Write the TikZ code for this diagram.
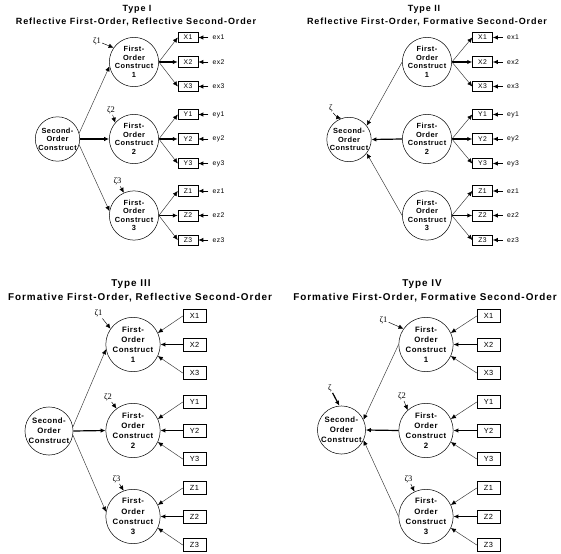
\documentclass[tikz,border=0pt]{standalone}
\usepackage{fontspec}
\setmainfont{Liberation Sans}[LetterSpace=6]
\newfontfamily\headfont{Liberation Sans}[LetterSpace=10]
\newfontfamily\zetafont{Liberation Serif}
\usetikzlibrary{arrows.meta}
\tikzstyle{construct} = [
    circle,
    draw=black,
    line width=0.5pt,
    minimum size=38pt,
    inner sep=0pt,
    align=center,
    font=\bfseries\fontsize{7.4}{8.5}\selectfont
]
\tikzstyle{bigconstruct} = [
    construct,
    minimum size=43pt,
    font=\bfseries\fontsize{7.8}{10.2}\selectfont
]
\tikzstyle{indicator} = [
    rectangle,
    draw=black,
    line width=0.5pt,
    minimum width=20pt,
    minimum height=10.5pt,
    inner sep=0pt,
    font=\fontsize{6.8}{7}\selectfont
]
\tikzstyle{bigindicator} = [
    indicator,
    minimum width=23pt,
    minimum height=13pt,
    font=\fontsize{7.4}{8}\selectfont
]
\tikzstyle{errterm} = [inner xsep=4pt, inner ysep=1pt, font=\fontsize{6.8}{7}\selectfont]
\tikzstyle{zeta} = [inner sep=1pt, font=\zetafont\fontsize{8.5}{8.5}\selectfont]
\tikzstyle{heading} = [anchor=base, font=\headfont\bfseries\fontsize{9}{10}\selectfont]
\tikzstyle{bigheading} = [anchor=base, font=\headfont\bfseries\fontsize{9.9}{11}\selectfont]
\tikzstyle{arrow} = [-{Latex[length=5pt,width=4.5pt,color=black]}, draw=black!80, line width=0.45pt]
\tikzstyle{mainarrow} = [arrow, draw=black, line width=1.2pt]
\tikzstyle{errarrow} = [arrow, draw=black, line width=0.9pt]
\tikzstyle{zetaarrow} = [arrow, draw=black]

\begin{document}
\begin{tikzpicture}[x=1pt, y=-1pt]

\useasboundingbox (0,0) rectangle (561,553);

% Type I
\node (aTitle) [heading] at (137,11.5) {Type I};
\node (aSub) [heading] at (136,25) {Reflective First-Order, Reflective Second-Order};

\node (aSO) [construct] at (57.5,139) {Second-\\Order\\Construct};
\node (aF1) [construct] at (134,62) {First-\\Order\\Construct\\1};
\node (aF2) [construct] at (134,139) {First-\\Order\\Construct\\2};
\node (aF3) [construct] at (134,215.5) {First-\\Order\\Construct\\3};

\node (aX1) [indicator] at (188,37.5) {X1};
\node (aX2) [indicator] at (188,62) {X2};
\node (aX3) [indicator] at (188,86.5) {X3};
\node (aY1) [indicator] at (188,114.5) {Y1};
\node (aY2) [indicator] at (188,139) {Y2};
\node (aY3) [indicator] at (188,163.5) {Y3};
\node (aZ1) [indicator] at (188,191) {Z1};
\node (aZ2) [indicator] at (188,215.5) {Z2};
\node (aZ3) [indicator] at (188,240) {Z3};

\node (aex1) [errterm] at (218.5,37.5) {ex1};
\node (aex2) [errterm] at (218.5,62) {ex2};
\node (aex3) [errterm] at (218.5,86.5) {ex3};
\node (aey1) [errterm] at (218.5,114.5) {ey1};
\node (aey2) [errterm] at (218.5,139) {ey2};
\node (aey3) [errterm] at (218.5,163.5) {ey3};
\node (aez1) [errterm] at (218.5,191) {ez1};
\node (aez2) [errterm] at (218.5,215.5) {ez2};
\node (aez3) [errterm] at (218.5,240) {ez3};

\node (az1) [zeta] at (97,41) {ζ1};
\node (az2) [zeta] at (111,110) {ζ2};
\node (az3) [zeta] at (117.5,181.5) {ζ3};

\draw [arrow] (aSO.15) -- (aF1.190);
\draw [mainarrow] (aSO.east) -- (aF2.west);
\draw [arrow] (aSO.-15) -- (aF3.170);

\draw [arrow] (aF1.east) -- (aX1.west);
\draw [mainarrow] (aF1.east) -- (aX2.west);
\draw [arrow] (aF1.east) -- (aX3.west);
\draw [arrow] (aF2.east) -- (aY1.west);
\draw [mainarrow] (aF2.east) -- (aY2.west);
\draw [arrow] (aF2.east) -- (aY3.west);
\draw [arrow] (aF3.east) -- (aZ1.west);
\draw [mainarrow] (aF3.east) -- (aZ2.west);
\draw [arrow] (aF3.east) -- (aZ3.west);

\draw [errarrow] (aex1) -- (aX1);
\draw [errarrow] (aex2) -- (aX2);
\draw [errarrow] (aex3) -- (aX3);
\draw [errarrow] (aey1) -- (aY1);
\draw [errarrow] (aey2) -- (aY2);
\draw [errarrow] (aey3) -- (aY3);
\draw [errarrow] (aez1) -- (aZ1);
\draw [errarrow] (aez2) -- (aZ2);
\draw [errarrow] (aez3) -- (aZ3);

\draw [zetaarrow] (az1) -- (aF1.145);
\draw [zetaarrow] (az2) -- (aF2.139);
\draw [zetaarrow] (az3) -- (aF3.114);

% Type II
\node (bTitle) [heading] at (424,11.5) {Type II};
\node (bSub) [heading] at (427,25) {Reflective First-Order, Formative Second-Order};

\node (bSO) [construct] at (349,139.5) {Second-\\Order\\Construct};
\node (bF1) [construct] at (427,62) {First-\\Order\\Construct\\1};
\node (bF2) [construct] at (427,139) {First-\\Order\\Construct\\2};
\node (bF3) [construct] at (427,215.5) {First-\\Order\\Construct\\3};

\node (bX1) [indicator] at (482.5,37.5) {X1};
\node (bX2) [indicator] at (482.5,62) {X2};
\node (bX3) [indicator] at (482.5,86.5) {X3};
\node (bY1) [indicator] at (482.5,114.5) {Y1};
\node (bY2) [indicator] at (482.5,139) {Y2};
\node (bY3) [indicator] at (482.5,163.5) {Y3};
\node (bZ1) [indicator] at (482.5,191) {Z1};
\node (bZ2) [indicator] at (482.5,215.5) {Z2};
\node (bZ3) [indicator] at (482.5,240) {Z3};

\node (bex1) [errterm] at (513,37.5) {ex1};
\node (bex2) [errterm] at (513,62) {ex2};
\node (bex3) [errterm] at (513,86.5) {ex3};
\node (bey1) [errterm] at (513,114.5) {ey1};
\node (bey2) [errterm] at (513,139) {ey2};
\node (bey3) [errterm] at (513,163.5) {ey3};
\node (bez1) [errterm] at (513,191) {ez1};
\node (bez2) [errterm] at (513,215.5) {ez2};
\node (bez3) [errterm] at (513,240) {ez3};

\node (bz) [zeta] at (331,108) {ζ};

\draw [arrow] (bF1.west) -- (bSO.38);
\draw [mainarrow] (bF2.west) -- (bSO.east);
\draw [arrow] (bF3.west) -- (bSO.-38);

\draw [arrow] (bF1.east) -- (bX1.west);
\draw [mainarrow] (bF1.east) -- (bX2.west);
\draw [arrow] (bF1.east) -- (bX3.west);
\draw [arrow] (bF2.east) -- (bY1.west);
\draw [mainarrow] (bF2.east) -- (bY2.west);
\draw [arrow] (bF2.east) -- (bY3.west);
\draw [arrow] (bF3.east) -- (bZ1.west);
\draw [mainarrow] (bF3.east) -- (bZ2.west);
\draw [arrow] (bF3.east) -- (bZ3.west);

\draw [errarrow] (bex1) -- (bX1);
\draw [errarrow] (bex2) -- (bX2);
\draw [errarrow] (bex3) -- (bX3);
\draw [errarrow] (bey1) -- (bY1);
\draw [errarrow] (bey2) -- (bY2);
\draw [errarrow] (bey3) -- (bY3);
\draw [errarrow] (bez1) -- (bZ1);
\draw [errarrow] (bez2) -- (bZ2);
\draw [errarrow] (bez3) -- (bZ3);

\draw [zetaarrow] (bz) to[bend right=20] (bSO.110);

% Type III
\node (cTitle) [bigheading] at (131,286) {Type III};
\node (cSub) [bigheading] at (140,300) {Formative First-Order, Reflective Second-Order};

\node (cSO) [bigconstruct] at (49,431) {Second-\\Order\\Construct};
\node (cF1) [bigconstruct] at (133,344.5) {First-\\Order\\Construct\\1};
\node (cF2) [bigconstruct] at (133,430.5) {First-\\Order\\Construct\\2};
\node (cF3) [bigconstruct] at (133,516.5) {First-\\Order\\Construct\\3};

\node (cX1) [bigindicator] at (194.5,316) {X1};
\node (cX2) [bigindicator] at (194.5,344.5) {X2};
\node (cX3) [bigindicator] at (194.5,373) {X3};
\node (cY1) [bigindicator] at (194.5,402) {Y1};
\node (cY2) [bigindicator] at (194.5,430.5) {Y2};
\node (cY3) [bigindicator] at (194.5,459) {Y3};
\node (cZ1) [bigindicator] at (194.5,488) {Z1};
\node (cZ2) [bigindicator] at (194.5,516.5) {Z2};
\node (cZ3) [bigindicator] at (194.5,545) {Z3};

\node (cz1) [zeta] at (98.5,313.5) {ζ1};
\node (cz2) [zeta] at (108,397) {ζ2};
\node (cz3) [zeta] at (116.5,479) {ζ3};

\draw [arrow] (cSO.10) -- (cF1.190);
\draw [mainarrow] (cSO.east) -- (cF2.west);
\draw [arrow] (cSO.-10) -- (cF3.170);

\draw [arrow] (cX1.west) -- (cF1.25);
\draw [mainarrow] (cX2.west) -- (cF1.east);
\draw [arrow] (cX3.west) -- (cF1.-25);
\draw [arrow] (cY1.west) -- (cF2.25);
\draw [mainarrow] (cY2.west) -- (cF2.east);
\draw [arrow] (cY3.west) -- (cF2.-25);
\draw [arrow] (cZ1.west) -- (cF3.25);
\draw [mainarrow] (cZ2.west) -- (cF3.east);
\draw [arrow] (cZ3.west) -- (cF3.-25);

\draw [zetaarrow] (cz1) -- (cF1.145);
\draw [zetaarrow] (cz2) -- (cF2.127);
\draw [zetaarrow] (cz3) -- (cF3.110);

% Type IV
\node (dTitle) [bigheading] at (422,286) {Type IV};
\node (dSub) [bigheading] at (425,300) {Formative First-Order, Formative Second-Order};

\node (dSO) [bigconstruct] at (341.5,430) {Second-\\Order\\Construct};
\node (dF1) [bigconstruct] at (426,344.5) {First-\\Order\\Construct\\1};
\node (dF2) [bigconstruct] at (426,430.5) {First-\\Order\\Construct\\2};
\node (dF3) [bigconstruct] at (426,516.5) {First-\\Order\\Construct\\3};

\node (dX1) [bigindicator] at (488.5,316) {X1};
\node (dX2) [bigindicator] at (488.5,344.5) {X2};
\node (dX3) [bigindicator] at (488.5,373) {X3};
\node (dY1) [bigindicator] at (488.5,402) {Y1};
\node (dY2) [bigindicator] at (488.5,430.5) {Y2};
\node (dY3) [bigindicator] at (488.5,459) {Y3};
\node (dZ1) [bigindicator] at (488.5,488) {Z1};
\node (dZ2) [bigindicator] at (488.5,516.5) {Z2};
\node (dZ3) [bigindicator] at (488.5,545) {Z3};

\node (dz) [zeta] at (330,388) {ζ};
\node (dz1) [zeta] at (383.5,320) {ζ1};
\node (dz2) [zeta] at (402,396) {ζ2};
\node (dz3) [zeta] at (408.5,479) {ζ3};

\draw [arrow] (dF1.west) -- (dSO.25);
\draw [mainarrow] (dF2.west) -- (dSO.east);
\draw [arrow] (dF3.west) -- (dSO.-25);

\draw [arrow] (dX1.west) -- (dF1.25);
\draw [mainarrow] (dX2.west) -- (dF1.east);
\draw [arrow] (dX3.west) -- (dF1.-25);
\draw [arrow] (dY1.west) -- (dF2.25);
\draw [mainarrow] (dY2.west) -- (dF2.east);
\draw [arrow] (dY3.west) -- (dF2.-25);
\draw [arrow] (dZ1.west) -- (dF3.25);
\draw [mainarrow] (dZ2.west) -- (dF3.east);
\draw [arrow] (dZ3.west) -- (dF3.-25);

\draw [mainarrow] (dz) -- (dSO.95);
\draw [zetaarrow] (dz1) -- (dF1.145);
\draw [zetaarrow] (dz2) -- (dF2.132);
\draw [zetaarrow] (dz3) -- (dF3.115);

\end{tikzpicture}
\end{document}
